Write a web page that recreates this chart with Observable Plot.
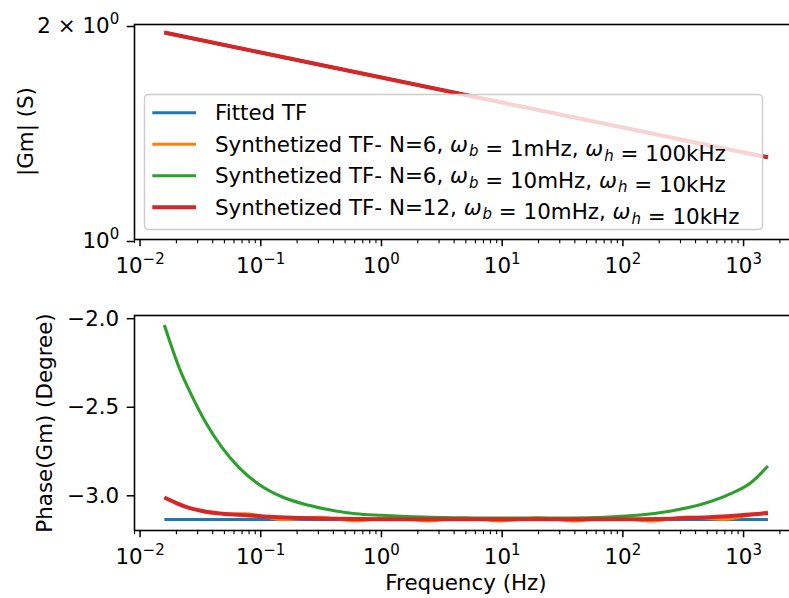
<!DOCTYPE html>
<html>
<head>
<meta charset="utf-8">
<script src="https://cdn.jsdelivr.net/npm/d3@7"></script>
<script src="https://cdn.jsdelivr.net/npm/@observablehq/plot@0.6"></script>
<style>
  html, body { margin: 0; padding: 0; background: #fff; }
  #chart svg { display: block; overflow: hidden; }
  text { white-space: pre; }
</style>
</head>
<body>
<div id="chart"></div>
<script>
// ---------- series labels / colours ----------
const seriesLabels = [
  "Fitted TF",
  "Synthetized TF- N=6, $ω_b$ = 1mHz, $ω_h$ = 100kHz",
  "Synthetized TF- N=6, $ω_b$ = 10mHz, $ω_h$ = 10kHz",
  "Synthetized TF- N=12, $ω_b$ = 10mHz, $ω_h$ = 10kHz"
];
const seriesColors = ["#1f77b4", "#ff7f0e", "#2ca02c", "#d62728"];
const seriesWidths = [3.1, 3.1, 3.1, 4.0];

// ---------- magnitude |Gm| (S) ----------
const magFreq   = [0.0159, 0.1, 1, 10, 100, 1000, 1592];
const magFitted = [1.949, 1.827, 1.686, 1.555, 1.435, 1.324, 1.303];
const magN6a    = [1.949, 1.827, 1.686, 1.555, 1.435, 1.324, 1.303];
const magN6b    = [1.947, 1.826, 1.686, 1.555, 1.435, 1.324, 1.303];
const magN12    = [1.949, 1.827, 1.686, 1.555, 1.435, 1.324, 1.304];

// ---------- phase (degree) ----------
const phFittedFreq = [0.0159, 1592];
const phFitted     = [-3.148, -3.148];

const phN6aFreq = [0.0159, 0.0183, 0.0263, 0.0371, 0.0525, 0.0736, 0.105, 0.149, 0.209, 0.296,
                   0.427, 0.601, 0.851, 1.19, 1.70, 2.42, 3.39, 4.81, 6.84, 9.73,
                   13.8, 19.7, 28.2, 39.2, 56.2, 79.4, 117, 170, 240, 345,
                   490, 686, 1000, 1259, 1592];
const phN6a     = [-3.024, -3.043, -3.085, -3.110, -3.117, -3.116, -3.130, -3.148, -3.143, -3.135,
                   -3.145, -3.155, -3.147, -3.138, -3.147, -3.156, -3.147, -3.138, -3.147, -3.156,
                   -3.147, -3.138, -3.147, -3.156, -3.147, -3.138, -3.147, -3.156, -3.146, -3.134,
                   -3.140, -3.148, -3.130, -3.118, -3.106];

const phN6bFreq = [0.0159, 0.0210, 0.0272, 0.0350, 0.0482, 0.0661, 0.0968, 0.151, 0.251, 0.418,
                   0.612, 1.0, 2.57, 10, 36.9, 132, 251, 471, 783, 1148, 1592];
const phN6b     = [-2.050, -2.288, -2.457, -2.600, -2.745, -2.855, -2.950, -3.021, -3.068, -3.100,
                   -3.115, -3.124, -3.135, -3.140, -3.139, -3.124, -3.100, -3.058, -3.002, -2.940, -2.846];

const phN12Freq = [0.0159, 0.0200, 0.0240, 0.0329, 0.0482, 0.0752, 0.1175, 0.222, 0.418, 1,
                   10, 100, 251, 471, 794, 1122, 1592];
const phN12     = [-3.024, -3.055, -3.077, -3.100, -3.115, -3.124, -3.133, -3.139, -3.144, -3.146,
                   -3.147, -3.146, -3.143, -3.137, -3.128, -3.120, -3.112];

// ---------- ticks ----------
const xTicks = [0.01, 0.1, 1, 10, 100, 1000];
const xTickLabels = ["10^−2", "10^−1", "10^0", "10^1", "10^2", "10^3"];
const magTicks = [1, 2];
const magTickLabels = ["10^0", "2 × 10^0"];
const phaseTicks = [-3.0, -2.5, -2.0];
const phaseTickLabels = ["−3.0", "−2.5", "−2.0"];

// ---------- helpers ----------
const FONT = "'DejaVu Sans', sans-serif";
const FS = 21.4;
const xDomain = [10 ** -2.046, 10 ** 3.455];
const minorTicks = [];
for (let e = -3; e <= 3; e++) for (let k = 2; k <= 9; k++) {
  const v = k * 10 ** e;
  if (v >= xDomain[0] && v <= xDomain[1]) minorTicks.push(v);
}
const rows = (fs, vs, s) => fs.map((f, i) => ({f, v: vs[i], s}));

const magData = [magFitted, magN6a, magN6b, magN12].map((vs, i) => rows(magFreq, vs, i));
const phData = [
  rows(phFittedFreq, phFitted, 0),
  rows(phN6aFreq, phN6a, 1),
  rows(phN6bFreq, phN6b, 2),
  rows(phN12Freq, phN12, 3)
];

function mathify(svg) {
  d3.select(svg).selectAll("text").each(function() {
    const s = this.textContent;
    if (!s.includes("^")) return;
    const [base, exp] = s.split("^");
    this.textContent = "";
    const t = d3.select(this);
    t.append("tspan").text(base);
    t.append("tspan").attr("font-size", FS * 0.7).attr("dy", -9.5).text(exp);
  });
}

function lineMarks(data, curve) {
  return data.map((d, i) => Plot.line(d, {
    x: "f", y: "v", stroke: seriesColors[i], strokeWidth: seriesWidths[i],
    curve, strokeLinecap: "butt"
  }));
}

function xAxes() {
  return [
    Plot.axisX({ticks: minorTicks, tickSize: 4.2, strokeWidth: 1.1, tickFormat: () => "", label: null}),
    Plot.axisX({ticks: xTicks, tickSize: 7.3, tickPadding: 11, strokeWidth: 1.5,
      tickFormat: d => xTickLabels[xTicks.indexOf(d)], label: null})
  ];
}

const chartStyle = {fontFamily: FONT, fontSize: FS + "px", color: "black", background: "white"};

// ---------- top chart ----------
const topChart = Plot.plot({
  width: 789, height: 290,
  marginTop: 24, marginBottom: 51, marginLeft: 134, marginRight: -9,
  style: chartStyle,
  x: {type: "log", domain: xDomain, label: null},
  y: {type: "log", domain: [1, 2], label: null},
  marks: [
    ...lineMarks(magData, "linear"),
    Plot.frame({stroke: "black", strokeWidth: 1.6}),
    ...xAxes(),
    Plot.axisY({ticks: magTicks, tickSize: 7.3, tickPadding: 8, strokeWidth: 1.5, dy: 2,
      tickFormat: d => magTickLabels[magTicks.indexOf(d)], label: null})
  ]
});

// ---------- bottom chart ----------
const bottomChart = Plot.plot({
  width: 789, height: 308,
  marginTop: 25, marginBottom: 68, marginLeft: 134, marginRight: -9,
  style: chartStyle,
  x: {type: "log", domain: xDomain, label: null},
  y: {type: "linear", domain: [-3.21, -1.996], label: null},
  marks: [
    ...lineMarks(phData, "monotone-x"),
    Plot.frame({stroke: "black", strokeWidth: 1.6}),
    ...xAxes(),
    Plot.axisY({ticks: phaseTicks, tickSize: 7.3, tickPadding: 8, strokeWidth: 1.5, dy: 2.5,
      tickFormat: d => phaseTickLabels[phaseTicks.indexOf(d)], label: null})
  ]
});

mathify(topChart);
mathify(bottomChart);

// axis titles
const ts = d3.select(topChart), bs = d3.select(bottomChart);
ts.append("text").attr("transform", "translate(32.5,131.5) rotate(-90)")
  .attr("text-anchor", "middle").attr("font-size", FS).attr("fill", "black").text("|Gm| (S)");
bs.append("text").attr("transform", "translate(52,133) rotate(-90)")
  .attr("text-anchor", "middle").attr("font-size", FS).attr("fill", "black").text("Phase(Gm) (Degree)");
bs.append("text").attr("x", 466).attr("y", 300)
  .attr("text-anchor", "middle").attr("font-size", FS).attr("fill", "black").text("Frequency (Hz)");

// legend (inside top axes, semi-transparent frame)
const lg = ts.append("g").attr("text-anchor", "start");
lg.append("rect").attr("x", 144.5).attr("y", 94.5).attr("width", 618).attr("height", 135)
  .attr("rx", 4).attr("fill", "white").attr("fill-opacity", 0.8)
  .attr("stroke", "#cccccc").attr("stroke-width", 1.4);
const rowY = [112.7, 144.3, 175.8, 207.3];
seriesLabels.forEach((lab, i) => {
  const y = rowY[i];
  lg.append("line").attr("x1", 152.3).attr("x2", 196).attr("y1", y).attr("y2", y)
    .attr("stroke", seriesColors[i]).attr("stroke-width", seriesWidths[i]);
  const t = lg.append("text").attr("x", 215).attr("y", y + 7.5)
    .attr("text-anchor", "start")
    .attr("font-size", FS).attr("fill", "black");
  lab.split(/(\$[^$]*\$)/).forEach(part => {
    if (!part) return;
    if (part.startsWith("$")) {
      const [sym, sub] = part.slice(1, -1).split("_");
      t.append("tspan").attr("font-style", "italic").text(sym);
      t.append("tspan").attr("font-style", "italic").attr("font-size", FS * 0.7)
        .attr("dx", 1).attr("dy", 4.5).text(sub);
      t.append("tspan").attr("dy", -4.5).attr("dx", 1.5).text("");
    } else {
      t.append("tspan").text(part);
    }
  });
});

document.getElementById("chart").append(topChart, bottomChart);
</script>
</body>
</html>
